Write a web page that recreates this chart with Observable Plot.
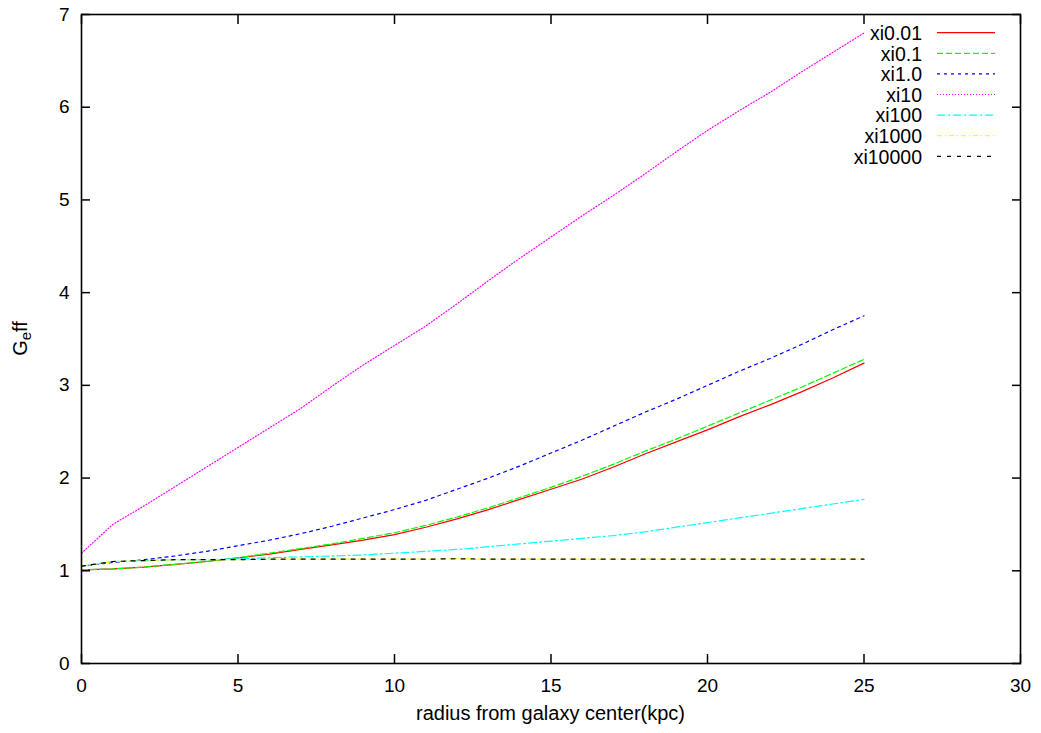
<!DOCTYPE html>
<html><head><meta charset="utf-8">
<script src="https://cdn.jsdelivr.net/npm/d3@7"></script>
<script src="https://cdn.jsdelivr.net/npm/@observablehq/plot@0.6"></script>
<style>html,body{margin:0;padding:0;background:#fff}#chart svg{display:block}</style>
</head><body><div id="chart"></div>
<script>
// ---- data ----
const radius = [0,1,2,3,4,5,6,7,8,9,10,11,12,13,14,15,16,17,18,19,20,21,22,23,24,25];
const xi0_01  = [1.01,1.02,1.04,1.07,1.10,1.14,1.18,1.23,1.28,1.33,1.39,1.47,1.56,1.66,1.77,1.88,1.99,2.12,2.26,2.39,2.52,2.66,2.79,2.93,3.08,3.24];
const xi0_1   = [1.01,1.02,1.04,1.07,1.10,1.14,1.19,1.24,1.29,1.35,1.41,1.49,1.58,1.68,1.79,1.90,2.02,2.15,2.29,2.42,2.56,2.70,2.84,2.98,3.13,3.28];
const xi1_0   = [1.05,1.09,1.12,1.16,1.21,1.27,1.33,1.40,1.48,1.57,1.66,1.76,1.88,2.00,2.13,2.27,2.41,2.56,2.71,2.85,3.00,3.15,3.29,3.44,3.60,3.75];
const xi10    = [1.19,1.50,1.70,1.91,2.12,2.33,2.54,2.75,2.99,3.22,3.43,3.64,3.88,4.13,4.37,4.60,4.83,5.05,5.28,5.52,5.75,5.96,6.16,6.38,6.59,6.80];
const xi100   = [1.05,1.10,1.11,1.12,1.12,1.13,1.14,1.15,1.16,1.17,1.19,1.21,1.23,1.26,1.29,1.32,1.35,1.38,1.42,1.47,1.52,1.57,1.62,1.67,1.72,1.77];
const xi1000  = [1.05,1.10,1.11,1.12,1.12,1.12,1.125,1.125,1.125,1.125,1.125,1.125,1.13,1.125,1.125,1.125,1.125,1.125,1.125,1.125,1.125,1.125,1.125,1.125,1.125,1.125];
const xi10000 = [1.05,1.10,1.11,1.12,1.12,1.12,1.125,1.125,1.125,1.125,1.125,1.125,1.13,1.125,1.125,1.125,1.125,1.125,1.125,1.125,1.125,1.125,1.125,1.125,1.125,1.125];

const seriesNames  = ["xi0.01","xi0.1","xi1.0","xi10","xi100","xi1000","xi10000"];
const seriesValues = [xi0_01, xi0_1, xi1_0, xi10, xi100, xi1000, xi10000];
const seriesColors = ["#ff0000","#00ff00","#0000ff","#ff00ff","#00ffff","#ffff00","#000000"];
const seriesDash   = [null,"6,3","3,4","1,2","8,3,2,3","5,3,1,3","4,6"];

const xTicks = [0,5,10,15,20,25,30];
const yTicks = [0,1,2,3,4,5,6,7];
const xLabel = "radius from galaxy center(kpc)";
const yLabelMain = "G", yLabelSub = "e", yLabelRest = "ff";

const FONT = "'Liberation Sans', Arial, Helvetica, sans-serif";
const intFmt = d3.format("d");

// ---- marks ----
const lineMarks = seriesNames.map((name, i) => {
  const rows = radius.map((r, j) => ({r, v: seriesValues[i][j]}));
  return Plot.line(rows, {x: "r", y: "v", stroke: seriesColors[i], strokeWidth: 1.2,
    strokeDasharray: seriesDash[i] || undefined});
});

function decorations(index, scales, values, dims) {
  const g = d3.create("svg:g").attr("font-family", FONT);
  const right = dims.width - dims.marginRight;
  const top = dims.marginTop;
  seriesNames.forEach((name, i) => {
    g.append("text")
      .attr("x", right - 98).attr("y", top + 26 + 20.6 * i)
      .attr("text-anchor", "end").attr("font-size", 19.5).attr("fill", "#000")
      .text(name);
    const ln = g.append("line")
      .attr("x1", right - 83).attr("x2", right - 25)
      .attr("y1", top + 18.7 + 20.6 * i).attr("y2", top + 18.7 + 20.6 * i)
      .attr("stroke", seriesColors[i]).attr("stroke-width", 1.2);
    if (seriesDash[i]) ln.attr("stroke-dasharray", seriesDash[i]);
  });
  // x label
  g.append("text")
    .attr("x", (dims.marginLeft + right) / 2).attr("y", dims.height - 13)
    .attr("text-anchor", "middle").attr("font-size", 20).attr("fill", "#000")
    .text(xLabel);
  // y label with subscript
  const yl = g.append("text")
    .attr("transform", `translate(27,${(top + dims.height - dims.marginBottom) / 2}) rotate(-90)`)
    .attr("text-anchor", "middle").attr("font-size", 20).attr("fill", "#000");
  yl.append("tspan").text(yLabelMain);
  yl.append("tspan").attr("font-size", 15).attr("dy", 4).text(yLabelSub);
  yl.append("tspan").attr("dy", -4).text(yLabelRest);
  return g.node();
}

const chart = Plot.plot({
  width: 1041,
  height: 733,
  marginLeft: 81,
  marginRight: 21,
  marginTop: 14,
  marginBottom: 70,
  style: {fontFamily: FONT, fontSize: "19px", background: "#fff", color: "#000"},
  x: {domain: [0, 30]},
  y: {domain: [0, 7]},
  marks: [
    ...lineMarks,
    // inward ticks on all four sides
    Plot.axisX({ticks: xTicks, anchor: "bottom", tickSize: 9, dy: -9, fill: "none", label: null, strokeWidth: 1.5}),
    Plot.axisX({ticks: xTicks, anchor: "top", tickSize: 9, dy: 9, fill: "none", label: null, strokeWidth: 1.5}),
    Plot.axisY({ticks: yTicks, anchor: "left", tickSize: 9, dx: 9, fill: "none", label: null, strokeWidth: 1.5}),
    Plot.axisY({ticks: yTicks, anchor: "right", tickSize: 9, dx: -9, fill: "none", label: null, strokeWidth: 1.5}),
    // tick labels
    Plot.axisX({ticks: xTicks, anchor: "bottom", tickSize: 0, tickPadding: 15, label: null, fontSize: 19, tickFormat: intFmt}),
    Plot.axisY({ticks: yTicks, anchor: "left", tickSize: 0, tickPadding: 12, label: null, fontSize: 19, tickFormat: intFmt}),
    Plot.frame({stroke: "#000", strokeWidth: 1.6}),
    decorations
  ]
});
document.getElementById("chart").append(chart);
</script>
</body></html>
